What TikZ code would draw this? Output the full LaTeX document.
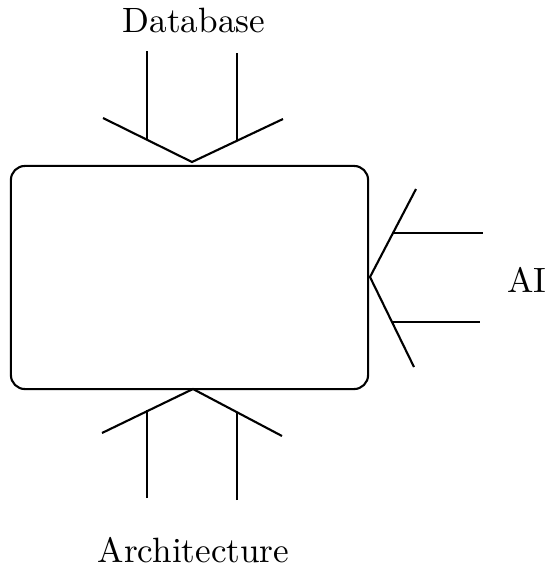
\documentclass[tikz,border=0pt]{standalone}
\usepackage{tikz}
\tikzset{line/.style={line width=0.6pt}}
\tikzset{frame/.style={draw,line width=0.6pt,rounded corners=4pt,minimum width=3.57cm,minimum height=2.23cm,inner sep=0pt}}
\tikzset{lbl/.style={anchor=base,inner sep=0pt,font=\normalsize}}

\begin{document}
\begin{tikzpicture}[x=0.01cm,y=-0.01cm]
                    \useasboundingbox (0,0) rectangle (554,575);

                    \node[frame] (box) at (189.5,277.5) {};
                    \node[lbl] (db) at (194,32) {Database};
                    \node[lbl] (arch) at (193.5,562) {Architecture};
                    \node[lbl] (ai) at (527,292) {AI};

                    % top
                    \coordinate (tt) at (192,162);
                    \coordinate (tl) at (103,118);
                    \coordinate (tr) at (283,119);
                    \coordinate (ta) at (147,51);
                    \coordinate (tb) at (237,53);
                    \draw[line] (tl) -- (tt) -- (tr);
                    \draw[line] (ta) -- (147,140);
                    \draw[line] (tb) -- (237,140);

                    % bottom
                    \coordinate (bt) at (193,389);
                    \coordinate (bl) at (102,433);
                    \coordinate (br) at (282,436);
                    \coordinate (ba) at (147,498);
                    \coordinate (bb) at (237,500);
                    \draw[line] (bl) -- (bt) -- (br);
                    \draw[line] (ba) -- (147,410);
                    \draw[line] (bb) -- (237,412);

                    % right
                    \coordinate (rt) at (370,277);
                    \coordinate (ru) at (416,189);
                    \coordinate (rd) at (414,367);
                    \coordinate (ra) at (483,233);
                    \coordinate (rb) at (480,322);
                    \draw[line] (ru) -- (rt) -- (rd);
                    \draw[line] (ra) -- (393,233);
                    \draw[line] (rb) -- (393,322);
                \end{tikzpicture}
\end{document}
